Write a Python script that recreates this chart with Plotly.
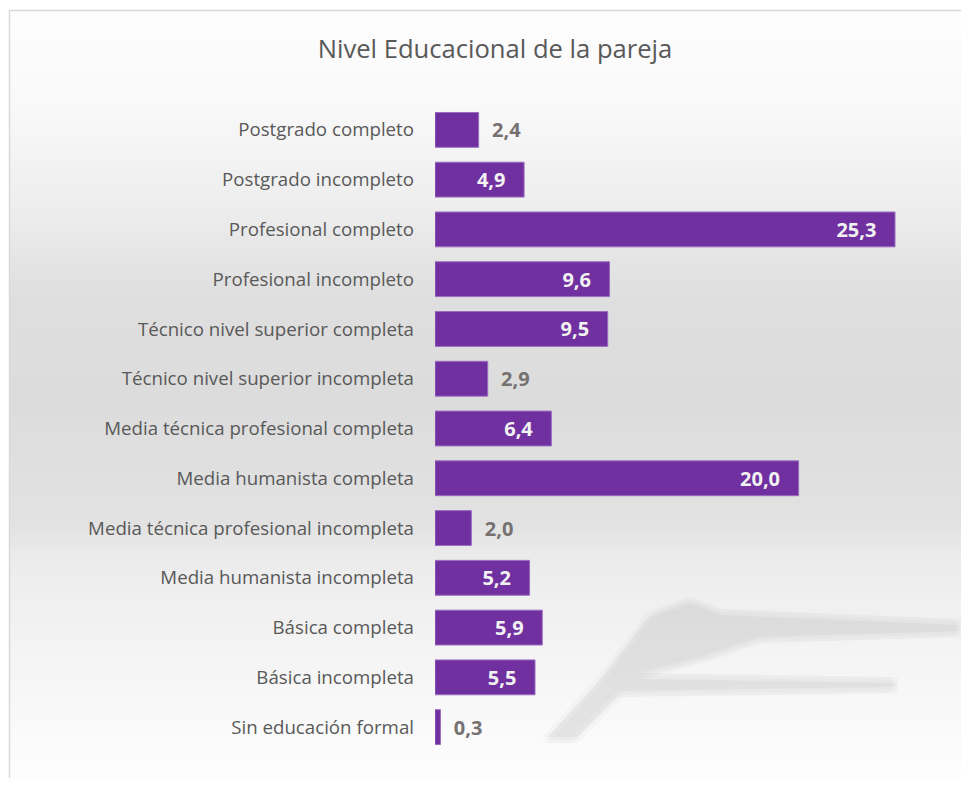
import plotly.graph_objects as go

categorias = [
    "Postgrado completo",
    "Postgrado incompleto",
    "Profesional completo",
    "Profesional incompleto",
    "Técnico nivel superior completa",
    "Técnico nivel superior incompleta",
    "Media técnica profesional completa",
    "Media humanista completa",
    "Media técnica profesional incompleta",
    "Media humanista incompleta",
    "Básica completa",
    "Básica incompleta",
    "Sin educación formal",
]
porcentajes = [2.4, 4.9, 25.3, 9.6, 9.5, 2.9, 6.4, 20.0, 2.0, 5.2, 5.9, 5.5, 0.3]

# the page adds an 8px body margin, so the figure is laid out 8px up/left
OFF = 8
W, H = 969 - 2 * OFF, 786 - 2 * OFF
ML, MT = 435 - OFF, 105 - OFF
PW = 955 - 435
PH = 752 - 105
MR = W - ML - PW
MB = H - MT - PH


def px(x):
    return (x - OFF - ML) / PW


def py(y):
    return 1 - (y - OFF - MT) / PH


# labels: small bars outside in gray, the rest inside in white
umbral = 4.0
etiquetas = []
posiciones = []
colores = []
for v in porcentajes:
    s = f"{v:.1f}".replace(".", ",")
    if v < umbral:
        etiquetas.append("\u00a0\u00a0" + s)
        posiciones.append("outside")
        colores.append("#757171")
    else:
        etiquetas.append(s + "\u00a0\u00a0\u00a0")
        posiciones.append("inside")
        colores.append("#f2f2f2")

fig = go.Figure()
fig.add_trace(
    go.Bar(
        x=porcentajes,
        y=categorias,
        orientation="h",
        marker=dict(color="#7030a0", line=dict(color="#9a6cc0", width=1)),
        text=etiquetas,
        textposition=posiciones,
        insidetextanchor="end",
        textfont=dict(family="Open Sans", size=20, color=colores, weight="bold"),
        cliponaxis=False,
        hoverinfo="skip",
    )
)

# background gradient (white -> gray -> white)
paradas = [(10, 253), (100, 249), (200, 238), (300, 222), (400, 220),
           (520, 226), (560, 236), (650, 244), (786, 254)]
formas = []
paso = 5
y = 10
while y < 800:
    for (a, ga), (b, gb) in zip(paradas, paradas[1:]):
        if a <= y <= b:
            g = round(ga + (gb - ga) * (y - a) / (b - a))
            break
    else:
        g = 254
    formas.append(dict(
        type="rect", xref="paper", yref="paper", layer="below",
        x0=px(9), x1=px(990), y0=py(y + paso + 0.5), y1=py(y),
        fillcolor=f"rgb({g},{g},{g})", line=dict(width=0),
    ))
    y += paso

# faint, soft watermark behind the lower bars (stacked offsets fake a blur)
marca = [
    (545, 740), (600, 680), (650, 615), (690, 600), (720, 612),
    (960, 622), (960, 634), (760, 640), (700, 660), (640, 676),
    (895, 680), (895, 690), (620, 694), (575, 740),
]
for dx, dy in [(-3, -3), (3, 3), (-3, 3), (3, -3), (0, 0)]:
    ruta = "M " + " L ".join(
        f"{px(a + dx):.4f},{py(b + dy):.4f}" for a, b in marca) + " Z"
    formas.append(dict(
        type="path", xref="paper", yref="paper", layer="below", path=ruta,
        fillcolor="rgba(170,170,170,0.06)", line=dict(width=0),
    ))

# chart frame
formas.append(dict(
    type="rect", xref="paper", yref="paper", layer="below",
    x0=px(9.5), x1=px(1000), y0=py(820), y1=py(10.5),
    line=dict(color="#d9d9d9", width=1.5), fillcolor="rgba(0,0,0,0)",
))

fig.update_layout(
    width=W,
    height=H,
    margin=dict(l=ML, r=MR, t=MT, b=MB),
    paper_bgcolor="white",
    plot_bgcolor="rgba(0,0,0,0)",
    showlegend=False,
    bargap=0.3,
    shapes=formas,
    font=dict(family="Open Sans", color="#595959"),
    title=dict(
        text="Nivel Educacional de la pareja",
        font=dict(family="Open Sans", size=25.6, color="#595959"),
        x=(495 - OFF) / W, xanchor="center", xref="container",
        y=1 - (49 - OFF) / H, yanchor="middle", yref="container",
    ),
    xaxis=dict(
        range=[0, PW / (460 / 25.3)],
        visible=False,
        fixedrange=True,
    ),
    yaxis=dict(
        autorange="reversed",
        showgrid=False,
        zeroline=False,
        showline=False,
        ticks="",
        ticklabelstandoff=20,
        tickfont=dict(family="Open Sans", size=18.7, color="#595959"),
    ),
)

fig.write_html("out.html")
